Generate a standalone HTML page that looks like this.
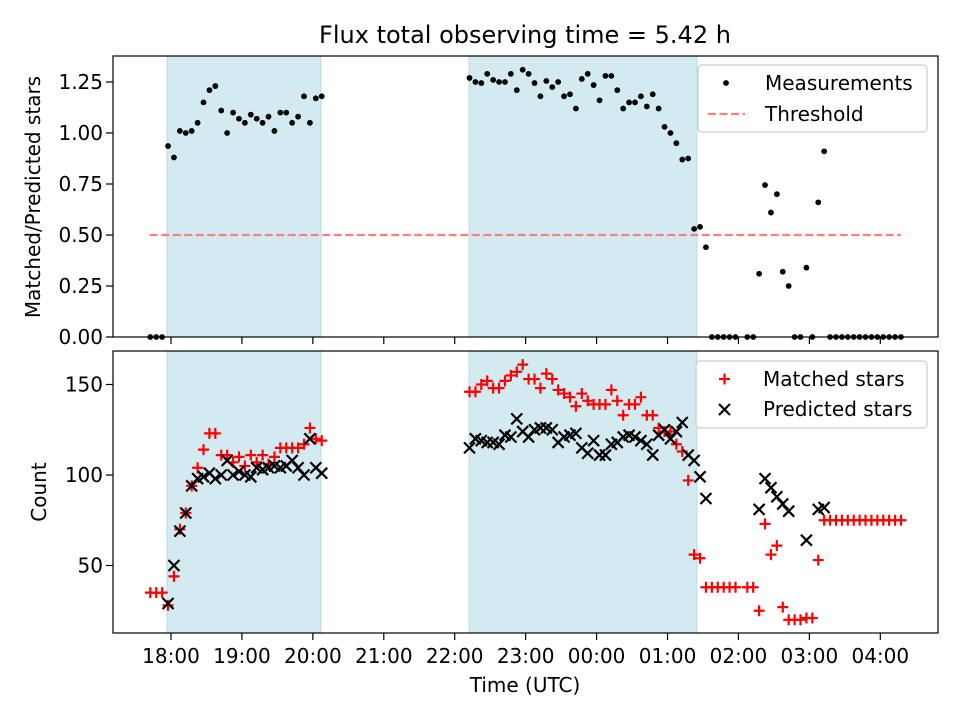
<!DOCTYPE html>
<html><head><meta charset="utf-8"><style>
body{margin:0;background:#fff;}
svg{display:block;font-family:"DejaVu Sans","Liberation Sans",sans-serif;}
</style></head><body>
<svg id="chart" width="960" height="720" viewBox="0 0 960 720" xmlns="http://www.w3.org/2000/svg">
<rect width="960" height="720" fill="#fff"/>
<text x="525" y="43" style="font-size:24px" text-anchor="middle">Flux total observing time = 5.42 h</text>
<text x="525" y="692" style="font-size:20px" text-anchor="middle">Time (UTC)</text>
<text transform="translate(40,197) rotate(-90)" style="font-size:20px" text-anchor="middle">Matched/Predicted stars</text>
<text transform="translate(46,492) rotate(-90)" style="font-size:20px" text-anchor="middle">Count</text>
</svg>
<script>
// times in minutes since 18:00 UTC
const times = [-17.5,-12.5,-7.5,
-2.5,2.5,7.5,12.5,17.5,22.5,27.5,32.5,37.5,42.5,47.5,52.5,57.5,62.5,67.5,72.5,77.5,82.5,87.5,92.5,97.5,102.5,107.5,112.5,117.5,122.5,127.5,
252.5,257.5,262.5,267.5,272.5,277.5,282.5,287.5,292.5,297.5,302.5,307.5,312.5,317.5,322.5,327.5,332.5,337.5,342.5,347.5,352.5,357.5,362.5,367.5,372.5,377.5,382.5,387.5,392.5,397.5,402.5,407.5,412.5,417.5,422.5,427.5,432.5,437.5,
442.5,447.5,452.5,
457.5,462.5,467.5,472.5,477.5,487.5,492.5,
497.5,502.5,507.5,512.5,517.5,522.5,527.5,532.5,537.5,542.5,547.5,552.5,
557.5,562.5,567.5,572.5,577.5,582.5,587.5,592.5,597.5,602.5,607.5,612.5,617.5];
const ratio = [0,0,0,
0.936,0.88,1.01,1.0,1.01,1.05,1.15,1.21,1.23,1.11,1.0,1.1,1.07,1.05,1.09,1.07,1.05,1.08,1.01,1.1,1.1,1.05,1.08,1.18,1.05,1.17,1.18,
1.27,1.25,1.245,1.29,1.26,1.25,1.25,1.29,1.21,1.31,1.29,1.245,1.18,1.255,1.225,1.25,1.18,1.19,1.12,1.265,1.29,1.235,1.16,1.28,1.28,1.21,1.12,1.15,1.15,1.18,1.13,1.19,1.12,1.03,1.0,0.95,0.87,0.875,
0.53,0.54,0.44,
0,0,0,0,0,0,0,
0.31,0.745,0.61,0.70,0.32,0.25,0,0,0.34,0,0.66,0.91,
0,0,0,0,0,0,0,0,0,0,0,0,0];
const matched = [35,35,35,
28,44,70,79,94,104,114,123,123,111,111,107,110,105,111,107,111,106,110,115,115,115,115,117,126,120,119,
146,146,150,152,148,148,152,155,157,161,153,153,148,156,153,147,145,143,138,145,141,139,139,139,147,141,133,139,139,143,133,133,126,124,124,117,113,97,
56,54,38,
38,38,38,38,38,38,38,
25,73,56,61,27,20,20,20,21,21,53,75,
75,75,75,75,75,75,75,75,75,75,75,75,75];
const predicted = [null,null,null,
29,50,69,79,94,98,99,101,98,100,108,100,102,100,99,104,103,104,105,104,105,108,104,100,120,104,101,
115,120,119,118,118,117,122,121,131,124,121,125,126,126,125,118,121,122,123,115,112,119,111,111,117,118,121,122,121,119,117,111,122,125,120,124,129,111,
108,99,87,
null,null,null,null,null,null,null,
81,98,93,88,84,80,null,null,64,null,81,82,
null,null,null,null,null,null,null,null,null,null,null,null,null];
const spans = [[-3.4,126.9],[252.1,445]];
const threshold = 0.5;
const thresholdRange = [-18, 617.5];
const xTicks = [0,60,120,180,240,300,360,420,480,540,600];
const xTickLabels = ["18:00","19:00","20:00","21:00","22:00","23:00","00:00","01:00","02:00","03:00","04:00"];
const topTicks = [0,0.25,0.5,0.75,1.0,1.25];
const topTickLabels = ["0.00","0.25","0.50","0.75","1.00","1.25"];
const botTicks = [50,100,150];
const botTickLabels = ["50","100","150"];

const NS="http://www.w3.org/2000/svg";
const svg=document.getElementById('chart');
const L=113,R=938, T1=56,B1=337, T2=351,B2=633;
const x=t=>171+t/60*70.93;
const y1=v=>337-v*204;
const y2=c=>475-(c-100)*1.81;
function mk(tag,attrs,parent){const e=document.createElementNS(NS,tag);for(const k in attrs)e.setAttribute(k,attrs[k]);(parent||svg).appendChild(e);return e;}

spans.forEach((s)=>{
  [[T1,B1],[T2,B2]].forEach((p)=>{
    const r=mk('rect',{x:x(s[0]),y:p[0],width:x(s[1])-x(s[0]),height:p[1]-p[0],fill:'#d4eaf1',stroke:'#b9dbe8','stroke-width':1});
    
    
  });
});
const th=mk('line',{x1:x(thresholdRange[0]),x2:x(thresholdRange[1]),y1:y1(threshold),y2:y1(threshold),stroke:'#ff7f7f','stroke-width':2.2,'stroke-dasharray':'8,3.5'});



times.forEach((t,i)=>{
  if(ratio[i]==null)return;
  const c=mk('circle',{cx:x(t),cy:y1(ratio[i]),r:2.9,fill:'#000'});
  
  
});
times.forEach((t,i)=>{
  if(matched[i]==null)return;
  const cx=x(t),cy=y2(matched[i]),s=5.5;
  const p=mk('path',{d:`M${cx-s},${cy}H${cx+s}M${cx},${cy-s}V${cy+s}`,stroke:'#ff0000','stroke-width':2.2,fill:'none'});
  
  
});
times.forEach((t,i)=>{
  if(predicted[i]==null)return;
  const cx=x(t),cy=y2(predicted[i]),s=5.5;
  const p=mk('path',{d:`M${cx-s},${cy-s}L${cx+s},${cy+s}M${cx-s},${cy+s}L${cx+s},${cy-s}`,stroke:'#000','stroke-width':2.2,fill:'none'});
  
  
});

[[T1,B1,'top-axes-frame'],[T2,B2,'bottom-axes-frame']].forEach(p=>{
  const r=mk('rect',{x:L,y:p[0],width:R-L,height:p[1]-p[0],fill:'none',stroke:'#000','stroke-width':1.2});
  
  
});
xTicks.forEach((t,i)=>{
  mk('line',{x1:x(t),x2:x(t),y1:B1,y2:B1+7,stroke:'#000','stroke-width':1.2});
  mk('line',{x1:x(t),x2:x(t),y1:B2,y2:B2+7,stroke:'#000','stroke-width':1.2});
  const tx=mk('text',{x:x(t),y:B2+30,'text-anchor':'middle',style:'font-size:20px'});
  tx.textContent=xTickLabels[i];
  
  
});
topTicks.forEach((v,i)=>{
  mk('line',{x1:L-7,x2:L,y1:y1(v),y2:y1(v),stroke:'#000','stroke-width':1.2});
  const tx=mk('text',{x:L-10,y:y1(v)+7,'text-anchor':'end',style:'font-size:20px'});
  tx.textContent=topTickLabels[i];
  
  
});
botTicks.forEach((v,i)=>{
  mk('line',{x1:L-7,x2:L,y1:y2(v),y2:y2(v),stroke:'#000','stroke-width':1.2});
  const tx=mk('text',{x:L-10,y:y2(v)+7,'text-anchor':'end',style:'font-size:20px'});
  tx.textContent=botTickLabels[i];
  
  
});
</script>
<svg style="position:absolute;left:0;top:0" width="960" height="720" xmlns="http://www.w3.org/2000/svg">
<g>
<rect x="698" y="65" width="229" height="67" rx="4" fill="#fff" fill-opacity="0.8" stroke="#ccc" stroke-width="1.2"/>
<circle cx="726" cy="83" r="2.9" fill="#000"/>
<text x="765" y="90" style="font-size:20px">Measurements</text>
<line x1="708" x2="745" y1="114" y2="114" stroke="#ff7f7f" stroke-width="2.2" stroke-dasharray="8,3.5"/>
<text x="765" y="121" style="font-size:20px">Threshold</text>
</g>
<g>
<rect x="696" y="361" width="231" height="67" rx="4" fill="#fff" fill-opacity="0.8" stroke="#ccc" stroke-width="1.2"/>
<path d="M719,379H730M724.5,373.5V384.5" stroke="#f00" stroke-width="2.2"/>
<text x="763" y="386" style="font-size:20px">Matched stars</text>
<path d="M719,404L730,415M719,415L730,404" stroke="#000" stroke-width="2.2"/>
<text x="763" y="416" style="font-size:20px">Predicted stars</text>
</g>
</svg>
</body></html>
